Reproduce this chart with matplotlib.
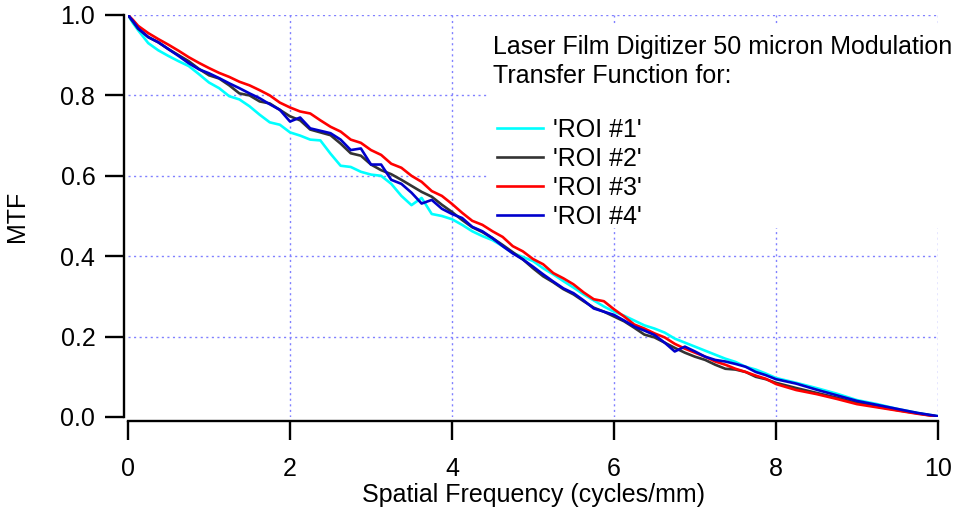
import matplotlib as mpl
mpl.use('AGG')
import matplotlib.pyplot as plt
from matplotlib.patches import Rectangle
import numpy as np

mpl.rc('font', **{'family': 'sans-serif', 'sans-serif': ['Liberation Sans'], 'size': 18})

# spatial frequency sample points (cycles/mm)
freq = [0, 0.06] + [0.125 * i for i in range(1, 65)] + [8.25, 8.5, 8.75, 9.0, 9.25, 9.5, 9.75, 10.0]

mtf_roi1 = [1.0, 0.980, 0.962, 0.930, 0.912, 0.898, 0.885, 0.873, 0.853, 0.832,
            0.818, 0.798, 0.790, 0.773, 0.752, 0.733, 0.727, 0.708, 0.700, 0.690,
            0.688, 0.655, 0.625, 0.622, 0.610, 0.603, 0.600, 0.580, 0.550, 0.527,
            0.545, 0.505, 0.500, 0.492, 0.478, 0.462, 0.450, 0.440, 0.425, 0.408,
            0.398, 0.388, 0.370, 0.355, 0.338, 0.322, 0.305, 0.290, 0.275, 0.262,
            0.252, 0.240, 0.228, 0.220, 0.210, 0.195, 0.185, 0.175, 0.165, 0.155,
            0.145, 0.137, 0.125, 0.118, 0.108, 0.097,
            0.085, 0.072, 0.058, 0.042, 0.032, 0.020, 0.010, 0.002]

mtf_roi2 = [1.0, 0.984, 0.966, 0.945, 0.932, 0.915, 0.900, 0.885, 0.866, 0.850,
            0.842, 0.825, 0.805, 0.800, 0.785, 0.780, 0.764, 0.748, 0.738, 0.715,
            0.708, 0.701, 0.680, 0.656, 0.650, 0.628, 0.614, 0.604, 0.590, 0.575,
            0.560, 0.548, 0.528, 0.510, 0.490, 0.472, 0.460, 0.445, 0.428, 0.410,
            0.392, 0.370, 0.350, 0.335, 0.318, 0.305, 0.288, 0.272, 0.262, 0.250,
            0.238, 0.222, 0.205, 0.198, 0.185, 0.172, 0.160, 0.150, 0.142, 0.130,
            0.120, 0.118, 0.112, 0.100, 0.094, 0.085,
            0.072, 0.060, 0.048, 0.035, 0.026, 0.017, 0.009, 0.001]

mtf_roi3 = [1.0, 0.988, 0.973, 0.955, 0.940, 0.926, 0.911, 0.895, 0.881, 0.868,
            0.856, 0.846, 0.834, 0.825, 0.813, 0.800, 0.782, 0.770, 0.760, 0.755,
            0.738, 0.722, 0.710, 0.690, 0.682, 0.664, 0.652, 0.630, 0.620, 0.600,
            0.585, 0.562, 0.550, 0.530, 0.508, 0.488, 0.478, 0.462, 0.448, 0.425,
            0.412, 0.393, 0.380, 0.358, 0.345, 0.330, 0.310, 0.293, 0.288, 0.268,
            0.250, 0.230, 0.220, 0.208, 0.198, 0.182, 0.170, 0.160, 0.150, 0.138,
            0.130, 0.120, 0.112, 0.103, 0.095, 0.082,
            0.067, 0.057, 0.045, 0.032, 0.024, 0.016, 0.008, 0.001]

mtf_roi4 = [1.0, 0.985, 0.967, 0.945, 0.932, 0.915, 0.898, 0.880, 0.865, 0.855,
            0.843, 0.830, 0.818, 0.805, 0.793, 0.778, 0.764, 0.735, 0.745, 0.718,
            0.712, 0.706, 0.690, 0.664, 0.668, 0.628, 0.628, 0.590, 0.580, 0.558,
            0.531, 0.540, 0.518, 0.505, 0.495, 0.473, 0.462, 0.445, 0.425, 0.407,
            0.392, 0.374, 0.355, 0.337, 0.320, 0.308, 0.290, 0.270, 0.262, 0.254,
            0.240, 0.225, 0.215, 0.204, 0.185, 0.163, 0.175, 0.163, 0.150, 0.142,
            0.138, 0.132, 0.125, 0.112, 0.104, 0.094,
            0.083, 0.068, 0.054, 0.040, 0.030, 0.020, 0.010, 0.002]

series = [mtf_roi1, mtf_roi2, mtf_roi3, mtf_roi4]
labels = ["'ROI #1'", "'ROI #2'", "'ROI #3'", "'ROI #4'"]
colors = ['#00ffff', '#333333', '#ff0000', '#0000cc']
title_text = 'Laser Film Digitizer 50 micron Modulation\nTransfer Function for:'

xticks = [0, 2, 4, 6, 8, 10]
yticks = [0.0, 0.2, 0.4, 0.6, 0.8, 1.0]

fig = plt.figure(figsize=(9.59, 5.16), dpi=100)
ax = fig.add_axes([128 / 959., 99 / 516., 810 / 959., 402 / 516.])

pl = []
for idx, y in enumerate(series):
    pl.append(ax.plot(freq, y, color=colors[idx], lw=1.9, label=labels[idx], zorder=2)[0])

ax.set_xlim(0, 10)
ax.set_ylim(0, 1.0)
ax.set_xticks(xticks)
ax.set_yticks(yticks)
ax.set_xticklabels(['%d' % t for t in xticks])
ax.set_yticklabels(['%.1f' % t for t in yticks])

for s in ['top', 'right']:
    ax.spines[s].set_visible(False)
for s in ['left', 'bottom']:
    ax.spines[s].set_position(('outward', 3))
    ax.spines[s].set_linewidth(1.7)
ax.tick_params(direction='out', length=13.5, width=1.7, labelsize=18)
ax.tick_params(axis='y', pad=7)
ax.tick_params(axis='x', pad=12)

ax.grid(True, color='#8080ff', linestyle=(0, (1.5, 2.5)), linewidth=1.0)
ax.set_axisbelow(True)
ax.xaxis.get_gridlines()[0].set_visible(False)
ax.yaxis.get_gridlines()[0].set_visible(False)

ax.set_xlabel('Spatial Frequency (cycles/mm)', fontsize=18)
ax.set_ylabel('MTF', fontsize=18, rotation=90)
ax.xaxis.set_label_coords(0.5, -0.163)
ax.yaxis.set_label_coords(-0.122, 0.5)

# white annotation box hides the grid behind the legend text
ax.add_patch(Rectangle((488 / 959., 1 - 228 / 516.), 471 / 959., 203 / 516.,
                       transform=fig.transFigure, facecolor='white', edgecolor='none',
                       zorder=1, clip_on=False))
fig.text(493 / 959., 1 - 35 / 516., title_text, ha='left', va='top',
         fontsize=18, linespacing=1.25, zorder=6)

leg = ax.legend(pl, labels, loc='upper left', bbox_to_anchor=(497 / 959., 1 - 118 / 516.),
                bbox_transform=fig.transFigure, frameon=False, fontsize=18,
                handlelength=1.85, handletextpad=0.4, labelspacing=0.2,
                borderpad=0, borderaxespad=0)
leg.set_zorder(5)
for h in leg.get_lines():
    h.set_linewidth(1.9)

plt.savefig('out.png', dpi=100)
